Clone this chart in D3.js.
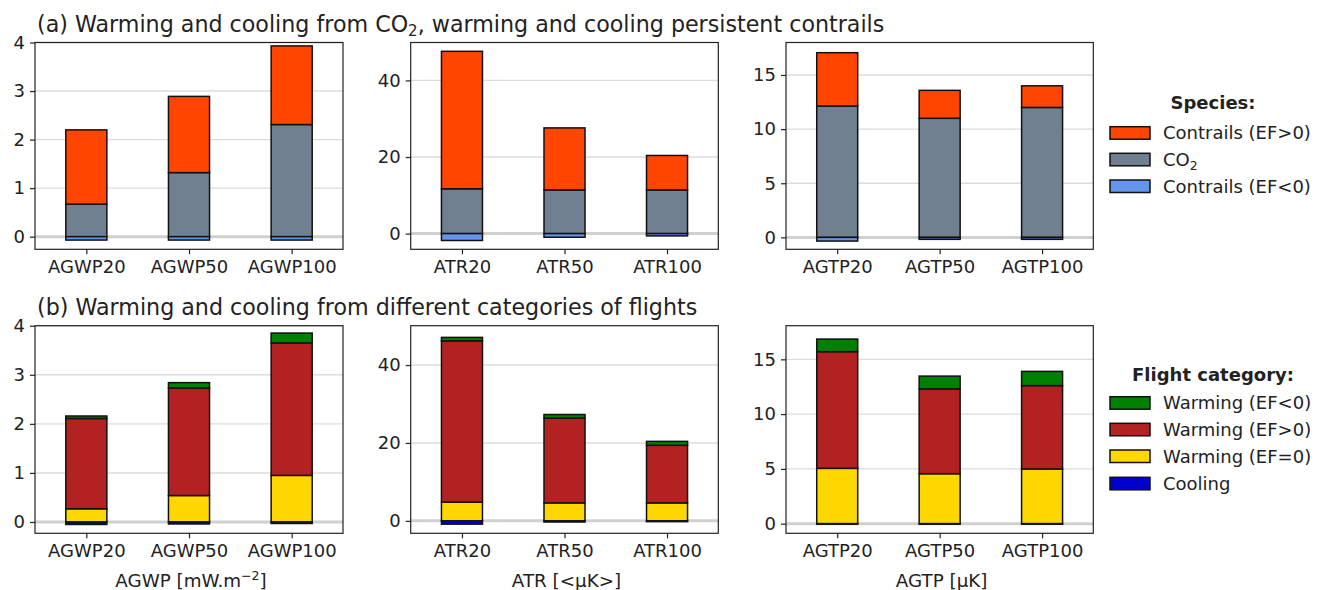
<!DOCTYPE html>
<html>
<head>
<meta charset="utf-8">
<script src="https://cdn.jsdelivr.net/npm/d3@7"></script>
<style>
  html, body { margin: 0; padding: 0; background: #fff; }
  text { font-family: "DejaVu Sans", sans-serif; fill: #222; }
</style>
</head>
<body>
<svg id="chart" width="1317" height="590"></svg>
<script>
// ---------------- DATA ----------------
const agwpCats = ["AGWP20", "AGWP50", "AGWP100"];
const atrCats  = ["ATR20", "ATR50", "ATR100"];
const agtpCats = ["AGTP20", "AGTP50", "AGTP100"];

// (a) species
const co2AGWP        = [0.67, 1.32, 2.31];
const contrPosAGWP   = [1.53, 1.57, 1.62];
const contrNegAGWP   = [-0.07, -0.07, -0.07];
const co2ATR         = [11.7, 11.4, 11.4];
const contrPosATR    = [35.9, 16.2, 9.0];
const contrNegATR    = [-1.8, -0.95, -0.6];
const co2AGTP        = [12.13, 11.0, 12.0];
const contrPosAGTP   = [4.93, 2.58, 2.0];
const contrNegAGTP   = [-0.34, -0.18, -0.18];

// (b) flight categories
const warmEF0AGWP    = [0.27, 0.54, 0.95];
const warmEFposAGWP  = [1.84, 2.19, 2.70];
const warmEFnegAGWP  = [0.05, 0.11, 0.20];
const coolingAGWP    = [-0.05, -0.04, -0.03];
const warmEF0ATR     = [4.8, 4.6, 4.6];
const warmEFposATR   = [41.4, 21.8, 14.8];
const warmEFnegATR   = [0.9, 0.9, 1.0];
const coolingATR     = [-0.85, -0.3, -0.2];
const warmEF0AGTP    = [5.05, 4.56, 4.99];
const warmEFposAGTP  = [10.65, 7.74, 7.61];
const warmEFnegAGTP  = [1.15, 1.17, 1.3];
const coolingAGTP    = [-0.05, -0.05, -0.05];

const ticksAGWP = [0, 1, 2, 3, 4];
const ticksATR  = [0, 20, 40];
const ticksAGTP = [0, 5, 10, 15];

const ylimAGWPa = [-0.26, 4.0], ylimATRa = [-4.1, 49.9], ylimAGTPa = [-1.1, 18.0];
const ylimAGWPb = [-0.23, 4.0], ylimATRb = [-3.2, 50.1], ylimAGTPb = [-0.88, 18.07];

const speciesNames = ["Contrails (EF>0)", "CO2", "Contrails (EF<0)"];
const flightNames  = ["Warming (EF<0)", "Warming (EF>0)", "Warming (EF=0)", "Cooling"];

// ---------------- STYLE ----------------
const C = {
  contrPos: "#FF4500", co2: "#708090", contrNeg: "#6495ED",
  green: "#008000", red: "#B22222", yellow: "#FFD700", blue: "#0000CD"
};

const svg = d3.select("#chart");
const cols = [[35, 343], [410.7, 718.3], [786, 1093.3]];
const rows = [[42.5, 249.3], [325.7, 533.3]];

function panel(col, row, cats, ylim, ticks, layersPos, layersNeg, xlabel) {
  const [x0, x1] = cols[col], [y0, y1] = rows[row];
  const x = d3.scaleLinear().domain([-0.5, 2.5]).range([x0, x1]);
  const y = d3.scaleLinear().domain(ylim).range([y1, y0]);
  const g = svg.append("g");
  const bw = 0.4;

  // grid
  g.selectAll(".grid").data(ticks.filter(t => t !== 0)).join("line")
    .attr("x1", x0).attr("x2", x1).attr("y1", d => y(d)).attr("y2", d => y(d))
    .attr("stroke", "#dcdcdc").attr("stroke-width", 1.4);
  // zero line
  g.append("line").attr("x1", x0).attr("x2", x1).attr("y1", y(0)).attr("y2", y(0))
    .attr("stroke", "#d0d0d0").attr("stroke-width", 3);

  // bars: positive stacked upward
  cats.forEach((c, i) => {
    let base = 0;
    layersPos.forEach(L => {
      const v = L.values[i];
      g.append("rect")
        .attr("x", x(i - bw / 2)).attr("width", x(i + bw / 2) - x(i - bw / 2))
        .attr("y", y(base + v)).attr("height", y(base) - y(base + v))
        .attr("fill", L.color).attr("stroke", "#111").attr("stroke-width", 1.5);
      base += v;
    });
    let nb = 0;
    layersNeg.forEach(L => {
      const v = L.values[i];
      g.append("rect")
        .attr("x", x(i - bw / 2)).attr("width", x(i + bw / 2) - x(i - bw / 2))
        .attr("y", y(nb)).attr("height", y(nb + v) - y(nb))
        .attr("fill", L.color).attr("stroke", "#111").attr("stroke-width", 1.5);
      nb += v;
    });
  });

  // frame
  g.append("rect").attr("x", x0).attr("y", y0).attr("width", x1 - x0).attr("height", y1 - y0)
    .attr("fill", "none").attr("stroke", "#222").attr("stroke-width", 1.2);

  // axes
  const yAxis = d3.axisLeft(y).tickValues(ticks).tickSize(5).tickPadding(5).tickFormat(d3.format("d"));
  const ya = g.append("g").attr("transform", `translate(${x0},0)`).call(yAxis);
  const xs = d3.scaleLinear().domain([-0.5, 2.5]).range([x0, x1]);
  const xAxis = d3.axisBottom(xs).tickValues([0, 1, 2]).tickSize(5).tickPadding(6).tickFormat(i => cats[i]);
  const xa = g.append("g").attr("transform", `translate(0,${y1})`).call(xAxis);
  [ya, xa].forEach(a => {
    a.select(".domain").remove();
    a.selectAll("line").attr("stroke", "#222").attr("stroke-width", 1.2);
    a.selectAll("text").attr("font-size", 18).attr("fill", "#222").style("font-family", "DejaVu Sans");
  });

  if (xlabel) {
    const t = g.append("text").attr("x", (x0 + x1) / 2 + 2).attr("y", 587)
      .attr("text-anchor", "middle").attr("font-size", 18.3);
    xlabel(t);
  }
}

// Row (a)
panel(0, 0, agwpCats, ylimAGWPa, ticksAGWP,
  [{values: co2AGWP, color: C.co2}, {values: contrPosAGWP, color: C.contrPos}],
  [{values: contrNegAGWP, color: C.contrNeg}]);
panel(1, 0, atrCats, ylimATRa, ticksATR,
  [{values: co2ATR, color: C.co2}, {values: contrPosATR, color: C.contrPos}],
  [{values: contrNegATR, color: C.contrNeg}]);
panel(2, 0, agtpCats, ylimAGTPa, ticksAGTP,
  [{values: co2AGTP, color: C.co2}, {values: contrPosAGTP, color: C.contrPos}],
  [{values: contrNegAGTP, color: C.contrNeg}]);

// Row (b)
panel(0, 1, agwpCats, ylimAGWPb, ticksAGWP,
  [{values: warmEF0AGWP, color: C.yellow}, {values: warmEFposAGWP, color: C.red}, {values: warmEFnegAGWP, color: C.green}],
  [{values: coolingAGWP, color: C.blue}],
  t => { t.append("tspan").text("AGWP [mW.m");
         t.append("tspan").attr("font-size", 12.5).attr("dy", -7).text("−2");
         t.append("tspan").attr("dy", 7).text("]"); });
panel(1, 1, atrCats, ylimATRb, ticksATR,
  [{values: warmEF0ATR, color: C.yellow}, {values: warmEFposATR, color: C.red}, {values: warmEFnegATR, color: C.green}],
  [{values: coolingATR, color: C.blue}],
  t => t.text("ATR [<μK>]"));
panel(2, 1, agtpCats, ylimAGTPb, ticksAGTP,
  [{values: warmEF0AGTP, color: C.yellow}, {values: warmEFposAGTP, color: C.red}, {values: warmEFnegAGTP, color: C.green}],
  [{values: coolingAGTP, color: C.blue}],
  t => t.text("AGTP [μK]"));

// Titles
const ta = svg.append("text").attr("x", 37).attr("y", 31.5).attr("font-size", 22.2);
ta.append("tspan").text("(a) Warming and cooling from CO");
ta.append("tspan").attr("font-size", 15).attr("dy", 4).text("2");
ta.append("tspan").attr("dy", -4).text(", warming and cooling persistent contrails");
svg.append("text").attr("x", 37).attr("y", 315).attr("font-size", 22.2)
  .text("(b) Warming and cooling from different categories of flights");

// Legends
function legend(titleY, rowsY, items, title) {
  svg.append("text").attr("x", 1213).attr("y", titleY).attr("text-anchor", "middle")
    .attr("font-size", 18).attr("font-weight", "bold").text(title);
  items.forEach((it, i) => {
    const cy = rowsY[i];
    svg.append("rect").attr("x", 1110).attr("y", cy - 6).attr("width", 40).attr("height", 12.5)
      .attr("fill", it.color).attr("stroke", "#111").attr("stroke-width", 1.5);
    const t = svg.append("text").attr("x", 1163).attr("y", cy + 6.5).attr("font-size", 18);
    if (it.name === "CO2") {
      t.append("tspan").text("CO");
      t.append("tspan").attr("font-size", 12.5).attr("dy", 4).text("2");
    } else t.text(it.name);
  });
}
legend(109.3, [132.7, 159.3, 186],
  speciesNames.map((n, i) => ({name: n, color: [C.contrPos, C.co2, C.contrNeg][i]})), "Species:");
legend(380.7, [402.7, 429.3, 456, 483.3],
  flightNames.map((n, i) => ({name: n, color: [C.green, C.red, C.yellow, C.blue][i]})), "Flight category:");
</script>
</body>
</html>
